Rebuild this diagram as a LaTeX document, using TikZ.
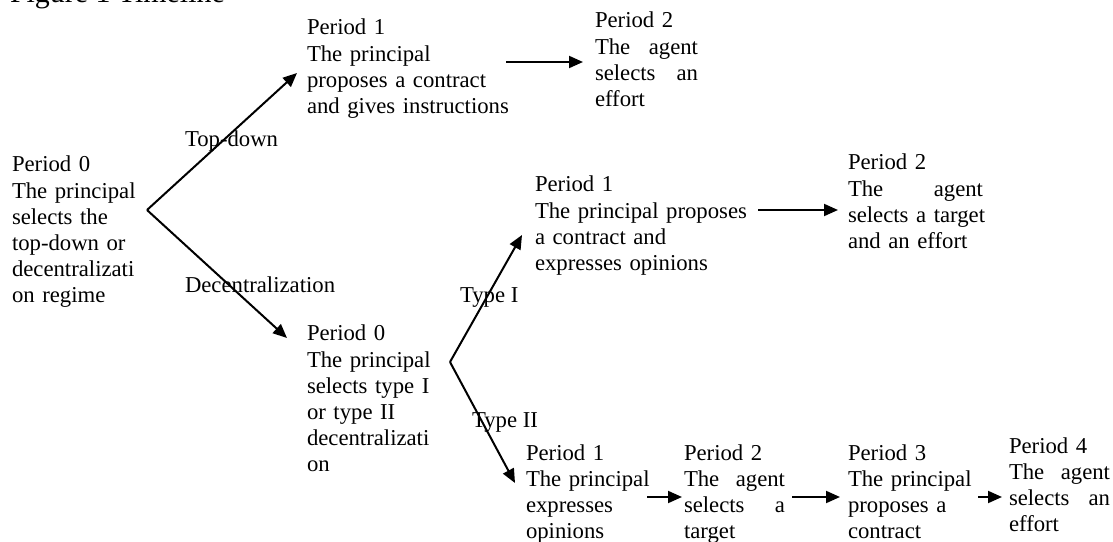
\documentclass[tikz,border=0pt]{standalone}
\usepackage{fontspec}
\setmainfont{Liberation Serif}
\usetikzlibrary{arrows.meta}

\newcommand{\jline}[1]{\leavevmode\hbox to \hsize{#1}}

\begin{document}
\begin{tikzpicture}[x=1bp,y=-1bp,
    every node/.style={inner sep=0pt,outer sep=0pt,anchor=base west,
      font=\fontsize{22.8}{26.2}\selectfont},
    period/.style={align=left,text width=#1},
    arr/.style={->,>={Triangle[length=14bp,width=12bp]},line width=2bp}]
    \path[use as bounding box,clip] (0,0) rectangle (1113,542);

    \node[font=\fontsize{30}{34}\selectfont] (title) at (10,3) {Figure 1 Timeline};

    \node[period=230bp] (start) at (12,172) {Period 0\\The principal\\selects the\\top-down or\\decentralizati\\on regime};
    \coordinate (fork0) at (147,210);
    \node (topdown) at (185,147) {Top-down};
    \node (decen) at (185,293) {Decentralization};

    \node[period=230bp] (top1) at (307,35) {Period 1\\The principal\\proposes a contract\\and gives instructions};
    \node[period=103bp] (top2) at (595,28) {Period 2\\\jline{The\hfil agent}\\\jline{selects\hfil an}\\effort};

    \node[period=230bp] (mid0) at (307,341) {Period 0\\The principal\\selects type I\\or type II\\decentralizati\\on};
    \coordinate (fork1) at (450,362);
    \node (typeone) at (460,303) {Type I};
    \node (typetwo) at (472,427) {Type II};

    \node[period=230bp] (mid1) at (535,192) {Period 1\\The principal proposes\\a contract and\\expresses opinions};
    \node[period=135bp] (mid2) at (848,170) {Period 2\\\jline{The\hfil agent}\\\mbox{selects a target}\\and an effort};

    \node[period=230bp] (bot1) at (526,460) {Period 1\\The principal\\expresses\\opinions};
    \node[period=101bp] (bot2) at (684,460) {Period 2\\\jline{The\hfil agent}\\\jline{selects\hfil a}\\target};
    \node[period=230bp] (bot3) at (848,460) {Period 3\\The principal\\proposes a\\contract};
    \node[period=101bp] (bot4) at (1009,453) {Period 4\\\jline{The\hfil agent}\\\jline{selects\hfil an}\\effort};

    % arrows
    \draw[arr] (fork0) -- ([shift={(-10,38)}]top1.base west);
    \draw[arr] (fork0) -- ([shift={(-20,-3)}]mid0.base west);
    \draw[arr] (fork1) -- ([shift={(-13,43)}]mid1.base west);
    \draw[arr] (fork1) -- ([shift={(-11,23)}]bot1.base west);
    \draw[arr] ([shift={(199,27)}]top1.base west) -- ([shift={(-12,34)}]top2.base west);
    \draw[arr] ([shift={(223,18)}]mid1.base west) -- ([shift={(-10,40)}]mid2.base west);
    \draw[arr] ([shift={(121,37)}]bot1.base west) -- ([shift={(-2,37)}]bot2.base west);
    \draw[arr] ([shift={(108,37)}]bot2.base west) -- ([shift={(-8,37)}]bot3.base west);
    \draw[arr] ([shift={(130,37)}]bot3.base west) -- ([shift={(-7,44)}]bot4.base west);
\end{tikzpicture}
\end{document}
